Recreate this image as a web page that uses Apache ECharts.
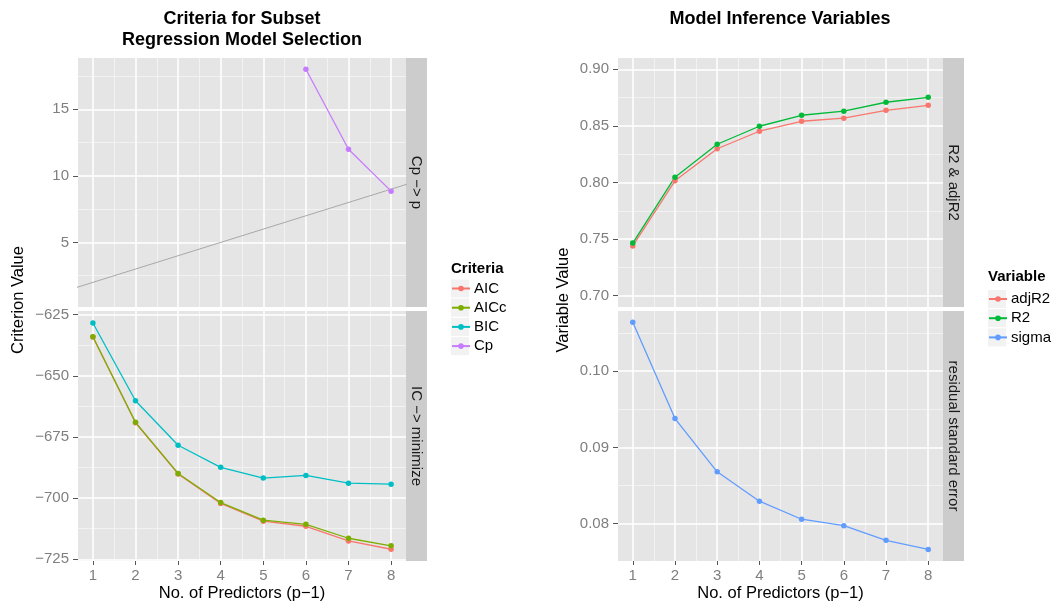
<!DOCTYPE html>
<html>
<head>
<meta charset="utf-8">
<script src="https://cdn.jsdelivr.net/npm/echarts@6/dist/echarts.min.js"></script>
<style>
  html, body { margin: 0; padding: 0; background: #fff; }
  #chart { width: 1052px; height: 603px; }
</style>
</head>
<body>
<div id="chart"></div>
<script>
// ---- data ----
const predictors = [1, 2, 3, 4, 5, 6, 7, 8]
const aic = [-634.1, -669.2, -690.1, -702.2, -709.4, -711.5, -717.5, -720.9]
const aicc = [-634.0, -669.0, -689.9, -701.8, -709.0, -710.7, -716.4, -719.5]
const bic = [-628.4, -660.2, -678.4, -687.4, -691.8, -690.7, -693.9, -694.3]
const cp = [null, null, null, null, null, 18.0, 12.0, 8.85]
// reference line Cp = p (clipped by the panel)
const cpRefX = [0, 9]
const cpRefY = [1, 10]
const adjR2 = [0.7440, 0.8015, 0.8298, 0.8453, 0.8541, 0.8568, 0.8638, 0.8682]
const r2 = [0.7465, 0.8047, 0.8338, 0.8497, 0.8594, 0.8630, 0.8709, 0.8753]
const sigma = [0.10642, 0.09379, 0.0868, 0.08295, 0.08058, 0.07974, 0.07781, 0.07662]

// ---- ticks ----
const xTicks = [1, 2, 3, 4, 5, 6, 7, 8]
const xMinor = [1.5, 2.5, 3.5, 4.5, 5.5, 6.5, 7.5]
const cpTicks = [5, 10, 15]
const cpMinor = [2.5, 7.5, 12.5, 17.5]
const icTicks = [-725, -700, -675, -650, -625]
const icMinor = [-712.5, -687.5, -662.5, -637.5]
const rTicks = [0.70, 0.75, 0.80, 0.85, 0.90]
const rMinor = [0.725, 0.775, 0.825, 0.875]
const sTicks = [0.08, 0.09, 0.10]
const sMinor = [0.085, 0.095, 0.105]

const FONT = '"Liberation Sans", Arial, Helvetica, sans-serif'
const TICK_GREY = '#7F7F7F'

const pairs = (ys, xs = predictors) => xs.map((x, i) => [x, ys[i]])
const minus = (s) => String(s).replace('-', '\u2212')

// panels: [left, top, width, height]
const panels = [
  { left: 78, top: 58, width: 328, height: 249 },   // Cp -> p
  { left: 78, top: 311, width: 328, height: 250 },  // IC -> minimize
  { left: 618, top: 58, width: 325, height: 249 },  // R2 & adjR2
  { left: 618, top: 311, width: 325, height: 250 }  // residual standard error
]

const xAxes = []
const yAxes = []

const addX = (g, bottom) => {
  xAxes.push({
    type: 'value', gridIndex: g, position: 'bottom', min: 0.65, max: 8.35, z: 1,
    axisLine: { show: false, onZero: false },
    axisTick: { show: false, customValues: xMinor },
    axisLabel: { show: false },
    splitLine: { lineStyle: { color: '#F2F2F2', width: 1 } }
  })
  xAxes.push({
    type: 'value', gridIndex: g, position: 'bottom', min: 0.65, max: 8.35, z: 2,
    axisLine: { show: false, onZero: false },
    axisTick: { show: bottom, customValues: xTicks, length: 4, lineStyle: { color: '#555' } },
    axisLabel: {
      show: bottom, customValues: xTicks, margin: 7,
      color: TICK_GREY, fontSize: 15, fontFamily: FONT
    },
    splitLine: { lineStyle: { color: '#fff', width: 1.5 } },
    name: bottom ? 'No. of Predictors (p\u22121)' : '',
    nameLocation: 'middle', nameGap: 24,
    nameTextStyle: { color: '#000', fontSize: 16.5, fontFamily: FONT, verticalAlign: 'top' }
  })
}

const addY = (g, min, max, ticks, minor, fmt) => {
  yAxes.push({
    type: 'value', gridIndex: g, position: 'left', min, max, z: 1,
    axisLine: { show: false, onZero: false },
    axisTick: { show: false, customValues: minor },
    axisLabel: { show: false },
    splitLine: { lineStyle: { color: '#F2F2F2', width: 1 } }
  })
  yAxes.push({
    type: 'value', gridIndex: g, position: 'left', min, max, z: 2,
    axisLine: { show: false, onZero: false },
    axisTick: { show: true, customValues: ticks, length: 5, lineStyle: { color: '#555' } },
    axisLabel: {
      customValues: ticks, margin: 9, formatter: fmt,
      color: TICK_GREY, fontSize: 15, fontFamily: FONT
    },
    splitLine: { lineStyle: { color: '#fff', width: 1.5 } }
  })
}

addX(0, false); addY(0, 0.15, 18.85, cpTicks, cpMinor, v => String(Math.round(v)))
addX(1, true); addY(1, -725.7, -623.5, icTicks, icMinor, v => minus(Math.round(v)))
addX(2, false); addY(2, 0.69, 0.91, rTicks, rMinor, v => v.toFixed(2))
addX(3, true); addY(3, 0.0751, 0.1079, sTicks, sMinor, v => v.toFixed(2))

const lineSeries = (name, g, ys, color) => ({
  name, type: 'line', xAxisIndex: 2 * g + 1, yAxisIndex: 2 * g + 1,
  data: pairs(ys), z: 3,
  symbol: 'circle', symbolSize: 5.5, showSymbol: true,
  lineStyle: { color, width: 1.3 }, itemStyle: { color },
  emphasis: { disabled: true }, animation: false
})

const series = [
  {
    name: 'Cp = p', type: 'line', xAxisIndex: 1, yAxisIndex: 1,
    data: pairs(cpRefY, cpRefX), symbol: 'none', silent: true, z: 3,
    lineStyle: { color: '#A8A8A8', width: 1 }, animation: false
  },
  lineSeries('AIC', 1, aic, '#F8766D'),
  lineSeries('AICc', 1, aicc, '#7CAE00'),
  lineSeries('BIC', 1, bic, '#00BFC4'),
  lineSeries('Cp', 0, cp, '#C77CFF'),
  lineSeries('adjR2', 2, adjR2, '#F8766D'),
  lineSeries('R2', 2, r2, '#00BA38'),
  lineSeries('sigma', 3, sigma, '#619CFF')
]

const legendBase = {
  orient: 'vertical', padding: 0, itemGap: 4.2, itemWidth: 18, itemHeight: 7,
  selectedMode: false,
  textStyle: { fontSize: 15, fontFamily: FONT, color: '#000', padding: [0, 0, 0, -1] }
}

// ---- decorations: strips, titles, legend keys ----
const strips = [
  { p: 0, text: 'Cp \u2212> p' },
  { p: 1, text: 'IC \u2212> minimize' },
  { p: 2, text: 'R2 & adjR2' },
  { p: 3, text: 'residual standard error' }
]
const graphic = []
strips.forEach(s => {
  const p = panels[s.p]
  const x = p.left + p.width
  graphic.push({ type: 'rect', shape: { x, y: p.top, width: 21, height: p.height }, style: { fill: '#CCCCCC' }, silent: true })
  graphic.push({
    type: 'text', x: x + 10.5, y: p.top + p.height / 2, rotation: -Math.PI / 2, silent: true,
    style: { text: s.text, fontSize: 15, fontFamily: FONT, fill: '#1A1A1A', align: 'center', verticalAlign: 'middle' }
  })
})
const textEl = (text, x, y, size, bold, rot, align) => ({
  type: 'text', x, y, rotation: rot || 0, silent: true,
  style: {
    text, fontSize: size, fontWeight: bold ? 'bold' : 'normal', fontFamily: FONT, fill: '#000',
    align: align || 'center', verticalAlign: 'middle'
  }
})
graphic.push(textEl('Criteria for Subset', 242, 19, 18, true))
graphic.push(textEl('Regression Model Selection', 242, 40, 18, true))
graphic.push(textEl('Model Inference Variables', 780, 19, 18, true))
graphic.push(textEl('Criterion Value', 18, 300, 16.5, false, Math.PI / 2))
graphic.push(textEl('Variable Value', 563, 300, 16.5, false, Math.PI / 2))
graphic.push(textEl('Criteria', 451, 269, 15, true, 0, 'left'))
graphic.push(textEl('Variable', 988, 277, 15, true, 0, 'left'))
for (let i = 0; i < 4; i++) {
  graphic.push({ type: 'rect', silent: true, z: -1, shape: { x: 451, y: 279.5 + i * 19.2, width: 18, height: 18 }, style: { fill: '#F2F2F2' } })
}
for (let i = 0; i < 3; i++) {
  graphic.push({ type: 'rect', silent: true, z: -1, shape: { x: 988, y: 290 + i * 19.2, width: 18, height: 18 }, style: { fill: '#F2F2F2' } })
}

const chart = echarts.init(document.getElementById('chart'), null, { renderer: 'canvas' })
chart.setOption({
  animation: false,
  backgroundColor: '#fff',
  grid: panels.map(p => ({ ...p, show: true, backgroundColor: '#E5E5E5', borderWidth: 0, z: 0 })),
  xAxis: xAxes,
  yAxis: yAxes,
  legend: [
    { ...legendBase, data: ['AIC', 'AICc', 'BIC', 'Cp'], left: 451, top: 281 },
    { ...legendBase, data: ['adjR2', 'R2', 'sigma'], left: 988, top: 291.5 }
  ],
  graphic,
  series
})

window.addEventListener('resize', () => chart.resize())
</script>
</body>
</html>
